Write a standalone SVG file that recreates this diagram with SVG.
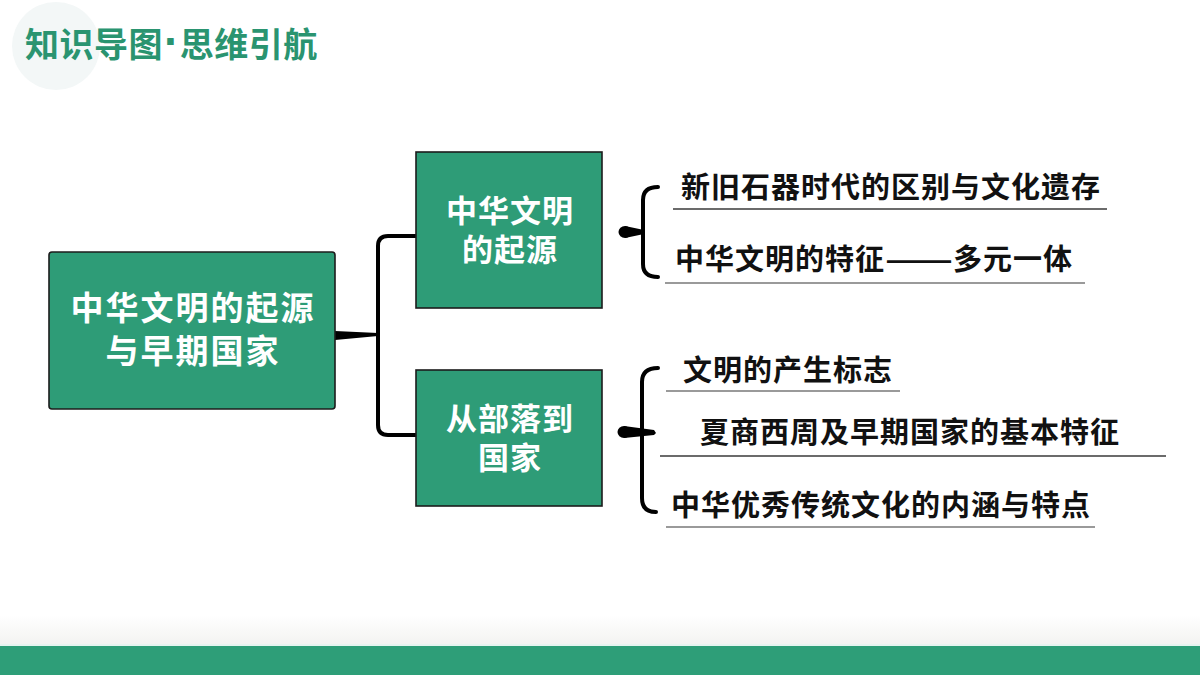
<svg xmlns="http://www.w3.org/2000/svg" width="1200" height="675" viewBox="0 0 1200 675">
<defs>
<style>
.node{fill:#2e9c77;stroke:#1c1c1c;stroke-width:1.6}
.nt{font-family:"Noto Sans CJK SC","Noto Sans",sans-serif;font-weight:700;fill:#ffffff;text-anchor:middle}
.it{font-family:"Noto Sans CJK SC","Noto Sans",sans-serif;font-weight:700;fill:#111111;font-size:29px;letter-spacing:1px}
.ul-d{stroke:#3a3a3a;stroke-width:1.3}
.ul-g{stroke:#9a9a9a;stroke-width:2}
.conn{fill:none;stroke:#000;stroke-width:4;stroke-linecap:round;stroke-linejoin:round}
.blob{fill:#000}
</style>
<linearGradient id="shade" x1="0" y1="0" x2="0" y2="1">
<stop offset="0" stop-color="#ffffff"/>
<stop offset="1" stop-color="#f3f3f1"/>
</linearGradient>
</defs>
<rect width="1200" height="675" fill="#ffffff"/>
<circle cx="56" cy="46" r="44" fill="#f3f7f7"/>
<rect x="0" y="615" width="1200" height="30" fill="url(#shade)"/>
<rect x="0" y="644" width="1200" height="2" fill="#e6f4f0"/>
<rect x="0" y="646" width="1200" height="29" fill="#2e9e78"/>
<text x="25" y="57" font-family="'Noto Sans CJK SC','Noto Sans',sans-serif" font-weight="700" font-size="34" fill="#2a9470" letter-spacing="0.5">知识导图<tspan font-family="'Liberation Sans',sans-serif" font-size="46" dx="1">·</tspan>思维引航</text>

<g id="connectors">
<path class="blob" d="M335,331 L378,333 L378,336 L335,340 Z"/>
<path class="conn" d="M416,236 L388,236 Q378,236 378,246 L378,425 Q378,435 388,435 L416,435"/>
<path class="conn" d="M658,187 Q643,187 643,200 L643,264 Q643,277 658,277"/>
<ellipse class="blob" cx="625" cy="232" rx="6.5" ry="6"/>
<path class="blob" d="M625,226 L644,230 L644,234 L625,238 Z"/>
<path class="conn" d="M658,368 Q642,368 642,382 L642,498 Q642,512 656,512"/>
<ellipse class="blob" cx="624" cy="432" rx="6.5" ry="6"/>
<path class="blob" d="M624,426 L654,430 L656,433 L654,435 L624,438 Z"/>
</g>

<g id="root">
<rect class="node" x="49" y="252" width="286" height="157" rx="3"/>
<text class="nt" font-size="33" letter-spacing="2"><tspan x="193" y="320">中华文明的起源</tspan><tspan x="193" y="363">与早期国家</tspan></text>
</g>
<g id="origin">
<rect class="node" x="416" y="152" width="186" height="156"/>
<text class="nt" font-size="31" letter-spacing="1"><tspan x="510" y="222">中华文明</tspan><tspan x="510" y="261">的起源</tspan></text>
</g>
<g id="state">
<rect class="node" x="416" y="370" width="186" height="136"/>
<text class="nt" font-size="31" letter-spacing="1"><tspan x="510" y="430">从部落到</tspan><tspan x="510" y="469">国家</tspan></text>
</g>
<g id="item1">
<text class="it" x="681" y="197.5">新旧石器时代的区别与文化遗存</text>
<line class="ul-d" x1="673" y1="209" x2="1107" y2="209"/>
</g>
<g id="item2">
<text class="it" x="675" y="269.5">中华文明的特征<tspan textLength="68" lengthAdjust="spacingAndGlyphs" letter-spacing="0">——</tspan>多元一体</text>
<line class="ul-g" x1="665" y1="283" x2="1085" y2="283"/>
</g>
<g id="item3">
<text class="it" x="683" y="380.5">文明的产生标志</text>
<line class="ul-g" x1="666" y1="391" x2="900" y2="391"/>
</g>
<g id="item4">
<text class="it" x="700" y="442.5">夏商西周及早期国家的基本特征</text>
<line class="ul-d" x1="660" y1="456" x2="1166" y2="456"/>
</g>
<g id="item5">
<text class="it" x="671" y="515.5">中华优秀传统文化的内涵与特点</text>
<line class="ul-g" x1="666" y1="527" x2="1095" y2="527"/>
</g>
</svg>
